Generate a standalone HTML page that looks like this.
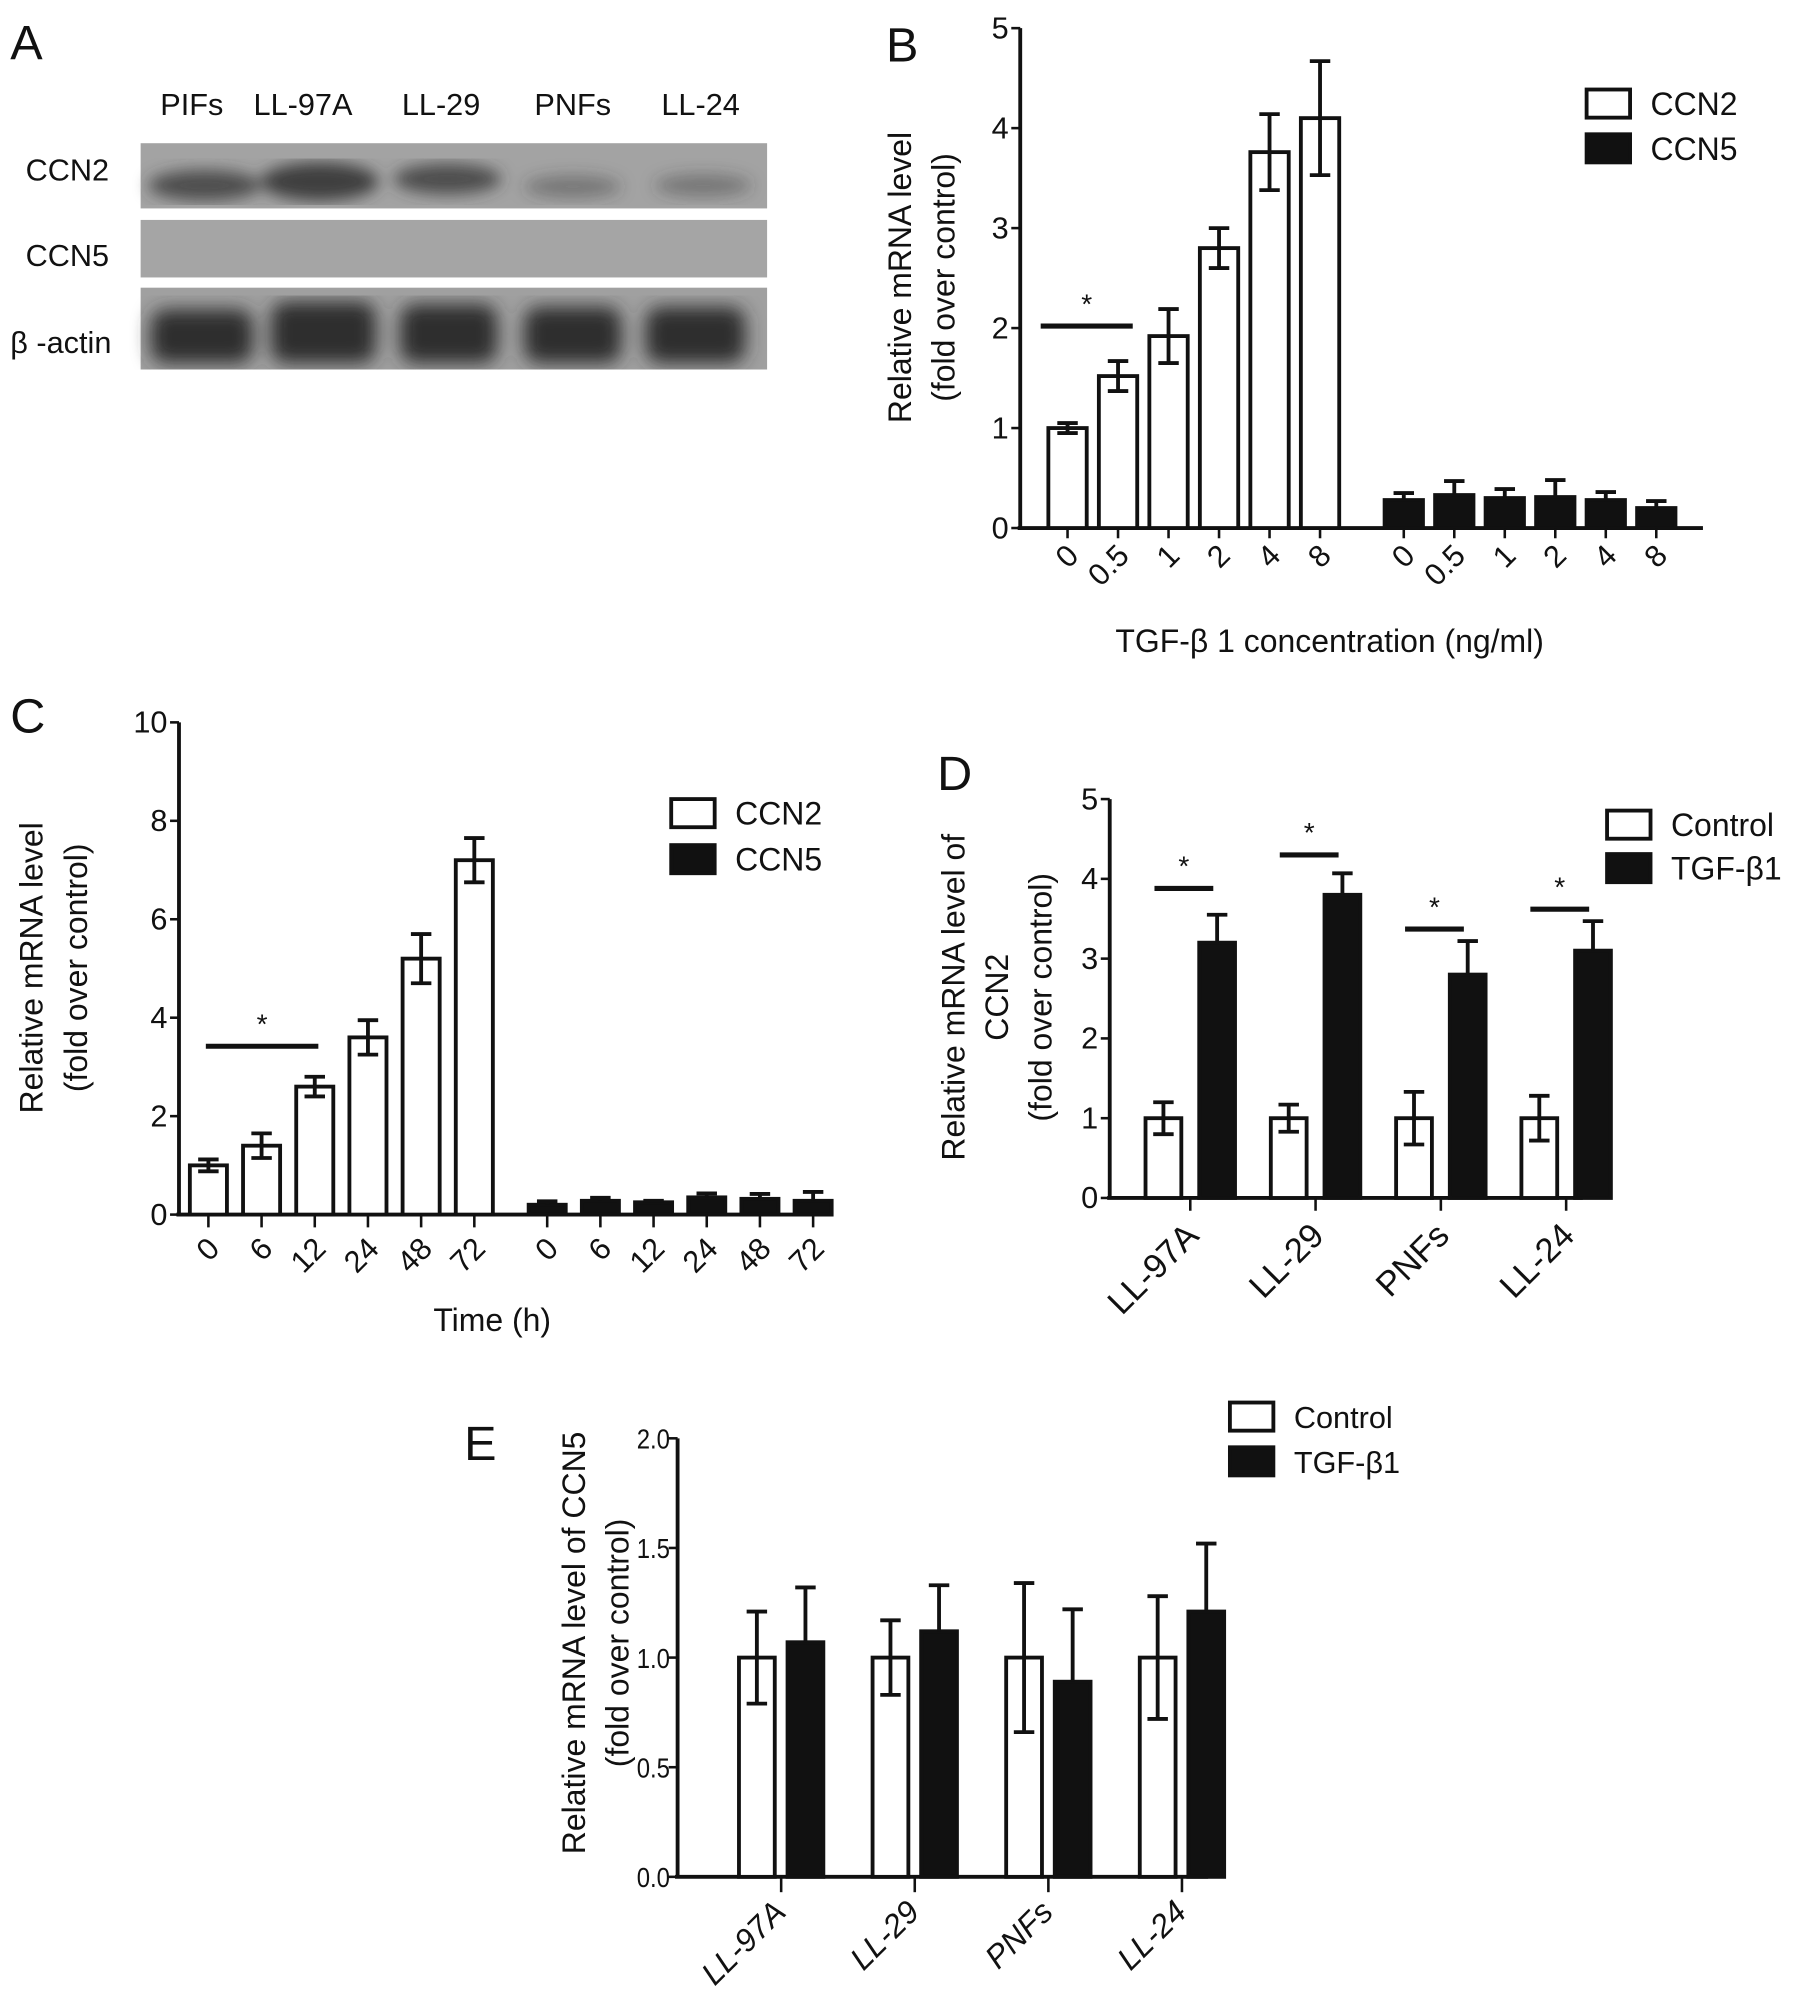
<!DOCTYPE html>
<html><head><meta charset="utf-8"><style>
html,body{margin:0;padding:0;background:#fff;}
svg{display:block;}
text{font-family:"Liberation Sans",sans-serif;fill:#111;}
</style></head><body>
<svg id="fig" xmlns="http://www.w3.org/2000/svg" width="1795" height="2006" viewBox="0 0 1404 1569">
<rect x="0" y="0" width="1404" height="1569" fill="#fff"/>
<!-- Panel A -->
<g>
<text x="8" y="46" font-size="38">A</text>
<g font-size="24" text-anchor="middle">
<text x="150" y="90">PIFs</text>
<text x="237" y="90">LL-97A</text>
<text x="345" y="90">LL-29</text>
<text x="448" y="90">PNFs</text>
<text x="548" y="90">LL-24</text>
</g>
<g font-size="24">
<text x="20" y="141">CCN2</text>
<text x="20" y="208">CCN5</text>
<text x="8" y="276">β -actin</text>
</g>
<defs>
<filter id="blur4"><feGaussianBlur stdDeviation="6"/></filter>
<filter id="blur8"><feGaussianBlur stdDeviation="7"/></filter>
</defs>
<rect x="110" y="112" width="490" height="51" fill="#a3a3a3"/>
<g filter="url(#blur4)" fill="#3a3a3a">
<ellipse cx="160" cy="145" rx="44" ry="12" opacity="0.8"/>
<ellipse cx="250" cy="142" rx="46" ry="15" opacity="0.95"/>
<ellipse cx="350" cy="140" rx="42" ry="12" opacity="0.8"/>
<ellipse cx="448" cy="146" rx="38" ry="9" opacity="0.4"/>
<ellipse cx="550" cy="145" rx="38" ry="9" opacity="0.4"/>
</g>
<rect x="110" y="172" width="490" height="45" fill="#a5a5a5"/>
<rect x="110" y="225" width="490" height="64" fill="#a0a0a0"/>
<g filter="url(#blur8)" fill="#2e2e2e">
<rect x="118" y="242" width="80" height="42" rx="12"/>
<rect x="212" y="236" width="82" height="48" rx="12"/>
<rect x="313" y="238" width="76" height="46" rx="12"/>
<rect x="410" y="240" width="76" height="44" rx="12"/>
<rect x="505" y="240" width="78" height="44" rx="12"/>
</g>
</g>
<g id="charts"></g>
</svg>
<script>
// ---- Panel B data ----
const bCats = ["0","0.5","1","2","4","8"];
const bCCN2 = [1.0,1.52,1.92,2.8,3.76,4.1];
const bCCN2Err = [0.05,0.15,0.27,0.2,0.38,0.57];
const bCCN5 = [0.28,0.33,0.3,0.31,0.28,0.2];
const bCCN5Err = [0.07,0.14,0.09,0.17,0.08,0.07];
const bTicks = [0,1,2,3,4,5];
// ---- Panel C data ----
const cCats = ["0","6","12","24","48","72"];
const cCCN2 = [1.0,1.4,2.6,3.6,5.2,7.2];
const cCCN2Err = [0.12,0.25,0.2,0.35,0.5,0.45];
const cCCN5 = [0.2,0.28,0.25,0.35,0.32,0.28];
const cCCN5Err = [0.07,0.06,0.03,0.08,0.1,0.18];
const cTicks = [0,2,4,6,8,10];
// ---- Panel D data ----
const dCats = ["LL-97A","LL-29","PNFs","LL-24"];
const dControl = [1,1,1,1];
const dControlErr = [0.2,0.17,0.33,0.28];
const dTGF = [3.2,3.8,2.8,3.1];
const dTGFErr = [0.35,0.27,0.42,0.37];
const dSig = [3.88,4.3,3.37,3.62];
const dTicks = [0,1,2,3,4,5];
// ---- Panel E data ----
const eCats = ["LL-97A","LL-29","PNFs","LL-24"];
const eControl = [1,1,1,1];
const eControlErr = [0.21,0.17,0.34,0.28];
const eTGF = [1.07,1.12,0.89,1.21];
const eTGFErr = [0.25,0.21,0.33,0.31];
const eTicks = ["0.0","0.5","1.0","1.5","2.0"];

const NS="http://www.w3.org/2000/svg";
const root=document.getElementById('charts');
function mk(tag,attrs,parent,txt){const e=document.createElementNS(NS,tag);for(const k in attrs)e.setAttribute(k,attrs[k]);if(txt!==undefined)e.textContent=txt;(parent||root).appendChild(e);return e;}

function yScale(y0,yTop,vmax){return v=>y0-(v/vmax)*(y0-yTop);}

function axes(g,x0,x1,y0,yTop,vmax,ticks,fs,narrow){
  const ys=yScale(y0,yTop,vmax);
  const ya=mk('line',{x1:x0,y1:y0,x2:x0,y2:yTop,stroke:'#111','stroke-width':3},g);
  
  
  const xa=mk('line',{x1:x0-2,y1:y0,x2:x1,y2:y0,stroke:'#111','stroke-width':3},g);
  
  
  ticks.forEach(t=>{const v=parseFloat(t);const y=ys(v);
    mk('line',{x1:x0-7,y1:y,x2:x0,y2:y,stroke:'#111','stroke-width':2},g);
    const a={x:narrow?x0-6:x0-9,y:y+8,'font-size':fs,'text-anchor':'end'};
    if(narrow){a.textLength=narrow;a.lengthAdjust='spacingAndGlyphs';}
    const tl=mk('text',a,g,t);
    
    
  });
  return ys;
}
function bar(g,cx,w,v,err,ys,filled,name){
  const y0=ys(0),y=ys(v);
  const r=mk('rect',{x:cx-w/2,y:y,width:w,height:y0-y,fill:filled?'#111':'#fff',stroke:'#111','stroke-width':3},g);
  
  
  const yt=ys(v+err), yb=ys(v-err);
  const eb=mk('path',{d:`M${cx},${filled?y:yb}L${cx},${yt}M${cx-8},${yt}L${cx+8},${yt}`+(filled?'':`M${cx-8},${yb}L${cx+8},${yb}`),stroke:'#111','stroke-width':3,fill:'none'},g);
  
  
}
function legend(g,x,y,labels,fs,gap){
  labels.forEach((l,i)=>{
    const r=mk('rect',{x:x,y:y+i*gap,width:34,height:22,fill:i?'#111':'#fff',stroke:'#111','stroke-width':3},g);
    
    
    const t=mk('text',{x:x+50,y:y+i*gap+20,'font-size':fs},g,l);
    
    
  });
}
function ytitle(g,cx,cy,lines,fs,lh){
  lines.forEach((l,i)=>{const x=cx+(i-(lines.length-1)/2)*lh;
    const t=mk('text',{x:x,y:cy,'font-size':fs,'text-anchor':'middle',transform:`rotate(-90 ${x} ${cy})`,'dominant-baseline':'middle'},g,l);
    
    
  });
}
function rotLabel(g,x,y,txt,fs,italic){
  const t=mk('text',{x:x,y:y,'font-size':fs,'text-anchor':'end',transform:`rotate(-45 ${x} ${y})`,'font-style':italic?'italic':'normal'},g,txt);
  
  
}
function sig(g,xa,xb,y,starY){
  const l=mk('line',{x1:xa,y1:y,x2:xb,y2:y,stroke:'#111','stroke-width':4},g);
  
  
  const s=mk('text',{x:(xa+xb)/2,y:starY,'font-size':22,'text-anchor':'middle'},g,'*');
  
  
}

// ---- Panel B ----
(function(){
  const g=mk('g',{});
  const l=mk('text',{x:693,y:48,'font-size':38},g,'B');
  const ys=axes(g,798,1332,413,22,5,bTicks.map(String),24);
  const x1=835,x2=1098,step=39.5,w=30;
  bCats.forEach((c,i)=>{const cx=x1+i*step;bar(g,cx,w,bCCN2[i],bCCN2Err[i],ys,false,'bar-ccn2-'+c);
    mk('line',{x1:cx,y1:413,x2:cx,y2:421,stroke:'#111','stroke-width':2},g);rotLabel(g,cx+10,436,c,24);});
  bCats.forEach((c,i)=>{const cx=x2+i*step;bar(g,cx,w,bCCN5[i],bCCN5Err[i],ys,true,'bar-ccn5-'+c);
    mk('line',{x1:cx,y1:413,x2:cx,y2:421,stroke:'#111','stroke-width':2},g);rotLabel(g,cx+10,436,c,24);});
  sig(g,814,886,ys(2.02),ys(2.02)-10);
  const t=mk('text',{x:1040,y:510,'font-size':25,'text-anchor':'middle'},g,'TGF-β 1 concentration (ng/ml)');
  ytitle(g,723,217,['Relative mRNA level','(fold over control)'],25,34);
  legend(g,1241,70,['CCN2','CCN5'],25,35);
})();
// ---- Panel C ----
(function(){
  const g=mk('g',{});
  const l=mk('text',{x:8,y:573,'font-size':38},g,'C');
  const ys=axes(g,140,625,950,565,10,cTicks.map(String),24);
  const x1=163,x2=428,step=41.6,w=29;
  cCats.forEach((c,i)=>{const cx=x1+i*step;bar(g,cx,w,cCCN2[i],cCCN2Err[i],ys,false,'bar-ccn2-'+c+'h');
    mk('line',{x1:cx,y1:950,x2:cx,y2:960,stroke:'#111','stroke-width':2},g);rotLabel(g,cx+10,978,c,24);});
  cCats.forEach((c,i)=>{const cx=x2+i*step;bar(g,cx,w,cCCN5[i],cCCN5Err[i],ys,true,'bar-ccn5-'+c+'h');
    mk('line',{x1:cx,y1:950,x2:cx,y2:960,stroke:'#111','stroke-width':2},g);rotLabel(g,cx+10,978,c,24);});
  sig(g,161,249,ys(3.42),ys(3.42)-10);
  const t=mk('text',{x:385,y:1041,'font-size':25,'text-anchor':'middle'},g,'Time (h)');
  ytitle(g,44,757,['Relative mRNA level','(fold over control)'],25,35);
  legend(g,525,625,['CCN2','CCN5'],25,36);
})();
// ---- Panel D ----
(function(){
  const g=mk('g',{});
  const l=mk('text',{x:733,y:618,'font-size':38},g,'D');
  const ys=axes(g,868,1238,937,625,5,dTicks.map(String),24);
  const g1=931,step=98,off=21,w=28;
  dCats.forEach((c,i)=>{const cx=g1+i*step;
    bar(g,cx-off,w,dControl[i],dControlErr[i],ys,false,'bar-control-'+c.toLowerCase());
    bar(g,cx+off,w,dTGF[i],dTGFErr[i],ys,true,'bar-tgf-'+c.toLowerCase());
    mk('line',{x1:cx,y1:937,x2:cx,y2:947,stroke:'#111','stroke-width':2},g);
    rotLabel(g,cx+8,968,c,27);
    sig(g,cx-28,cx+18,ys(dSig[i]),ys(dSig[i])-10);
  });
  ytitle(g,782,780,['Relative mRNA level of','CCN2','(fold over control)'],25,34);
  legend(g,1257,634,['Control','TGF-β1'],25,34);
})();
// ---- Panel E ----
(function(){
  const g=mk('g',{});
  const l=mk('text',{x:363,y:1142,'font-size':38},g,'E');
  const ys=axes(g,530,945,1468,1125,2,eTicks,22,26);
  const g1=611,step=104.5,off=19,w=28;
  eCats.forEach((c,i)=>{const cx=g1+i*step;
    bar(g,cx-off,w,eControl[i],eControlErr[i],ys,false,'bar-control-'+c.toLowerCase());
    bar(g,cx+off,w,eTGF[i],eTGFErr[i],ys,true,'bar-tgf-'+c.toLowerCase());
    mk('line',{x1:cx,y1:1468,x2:cx,y2:1480,stroke:'#111','stroke-width':2},g);
    rotLabel(g,cx+5,1497,c,25,true);
  });
  ytitle(g,468,1285,['Relative mRNA level of CCN5','(fold over control)'],25,34);
  legend(g,962,1097,['Control','TGF-β1'],24,35);
})();
</script>
</body></html>
